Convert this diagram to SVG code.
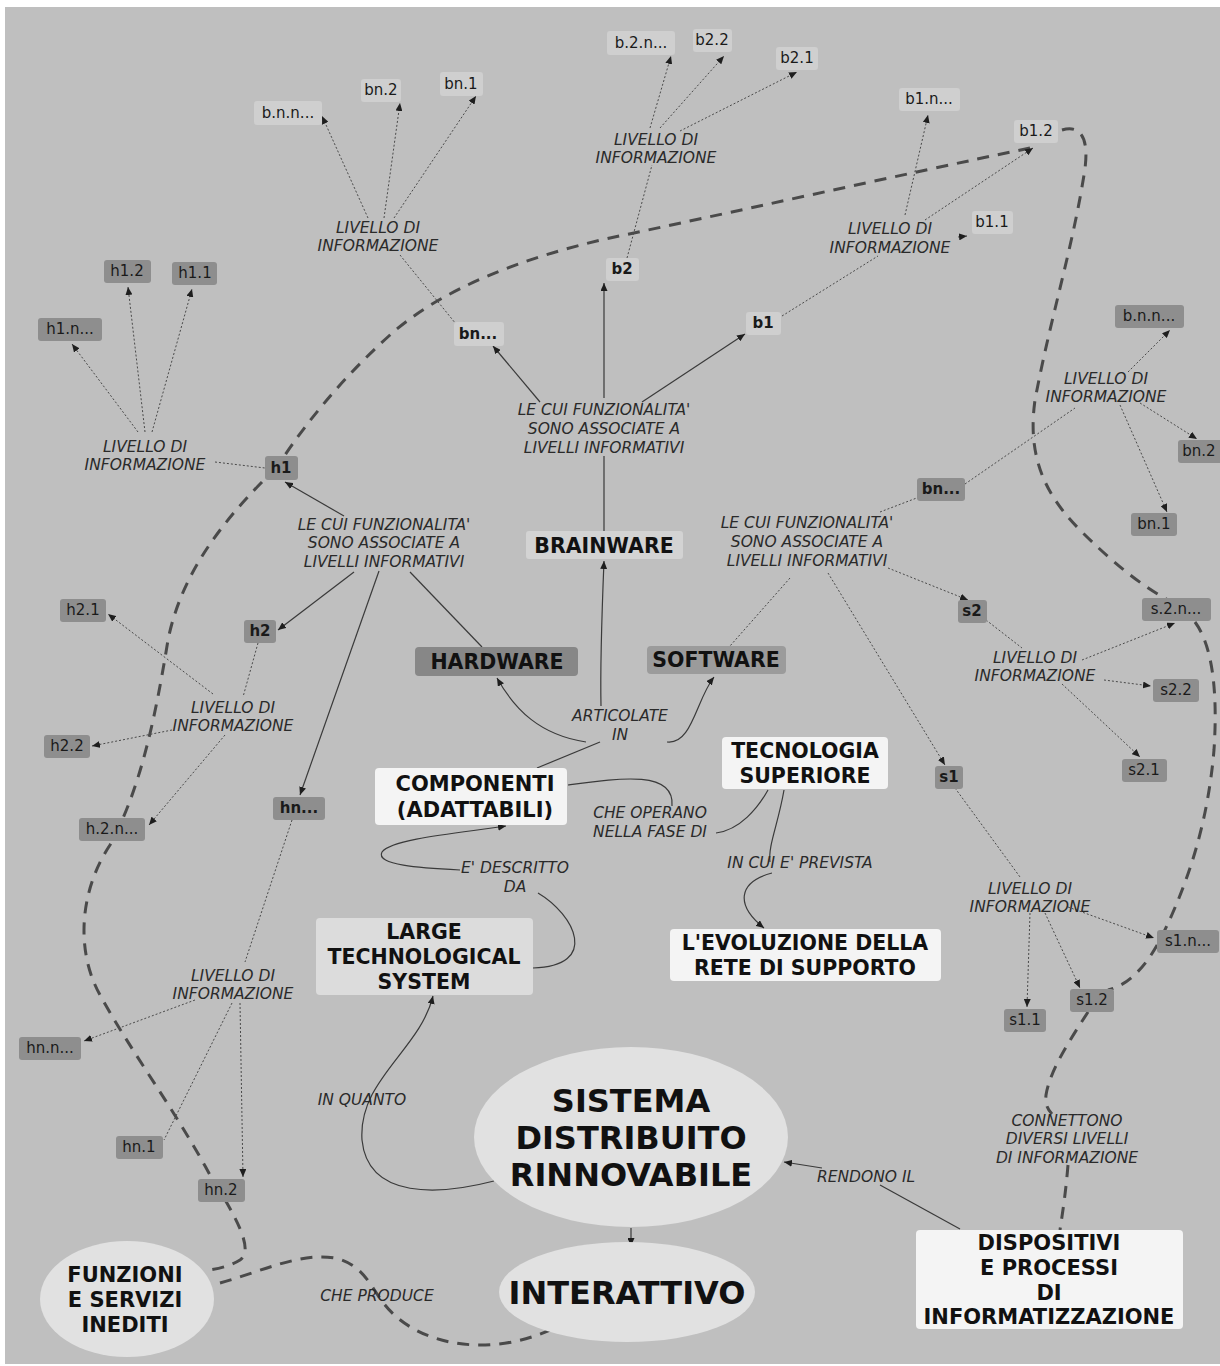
<svg xmlns="http://www.w3.org/2000/svg" width="1220" height="1366" viewBox="0 0 1220 1366">
<defs>
<marker id="ah" viewBox="0 0 8 7" refX="8" refY="3.5" markerWidth="8" markerHeight="7" markerUnits="userSpaceOnUse" orient="auto">
<path d="M0,0 L8,3.5 L0,7 z" fill="#1e1e1e"/>
</marker>
<style>
.lt{fill:#cfcfcf}
.dk{fill:#8e8e8e}
.wh{fill:#f4f4f4}
.el{fill:#e1e1e1}
.t{font-family:"DejaVu Sans",Verdana,sans-serif;font-size:15px;fill:#1a1a1a;text-anchor:middle}
.b{font-weight:bold}
.big{font-family:"DejaVu Sans",Verdana,sans-serif;font-weight:bold;font-size:20.5px;fill:#111;text-anchor:middle}
.lbl{font-family:"DejaVu Sans",Verdana,sans-serif;font-style:italic;font-size:15.5px;fill:#2a2a2a;text-anchor:middle}
.dot{fill:none;stroke:#4a4a4a;stroke-width:1;stroke-dasharray:2 2}
.sol{fill:none;stroke:#3a3a3a;stroke-width:1.2}
.dash{fill:none;stroke:#4a4a4a;stroke-width:3;stroke-dasharray:12 9}
</style>
</defs>
<rect x="0" y="0" width="1220" height="1366" fill="#ffffff"/>
<rect x="5" y="7" width="1215" height="1357" fill="#bfbfbf"/>

<g id="connectors">
<!-- thick dashed -->
<path class="dash" d="M1030,148 C900,175 720,215 610,238 C520,258 440,290 390,335 C340,380 305,425 283,458"/>
<path class="dash" d="M262,482 C215,530 180,580 168,640 C155,720 140,790 110,845 C80,890 75,950 100,995 C130,1050 175,1110 210,1175 C235,1215 255,1250 240,1260 C232,1265 222,1268 210,1270"/>
<path class="dash" d="M220,1283 C260,1272 300,1252 335,1258 C365,1265 372,1290 385,1305 C405,1330 440,1345 480,1345 C515,1345 540,1335 562,1325"/>
<path class="dash" d="M1062,130 C1082,124 1090,140 1084,175 C1072,250 1050,320 1035,400 C1028,450 1040,490 1080,530 C1110,560 1140,585 1168,600"/>
<path class="dash" d="M1195,622 C1212,645 1218,690 1214,750 C1208,820 1190,880 1160,940 C1145,968 1128,985 1108,990"/>
<path class="dash" d="M1088,1012 C1070,1040 1050,1070 1046,1095 C1045,1105 1048,1110 1052,1114"/>
<path class="dash" d="M1068,1165 C1066,1190 1063,1210 1060,1230"/>

<!-- top bn subtree -->
<line class="dot" x1="368" y1="218" x2="322" y2="116" marker-end="url(#ah)"/>
<line class="dot" x1="384" y1="218" x2="400" y2="103" marker-end="url(#ah)"/>
<line class="dot" x1="394" y1="218" x2="476" y2="96" marker-end="url(#ah)"/>
<line class="dot" x1="400" y1="255" x2="456" y2="324"/>
<!-- b2 subtree -->
<line class="dot" x1="650" y1="128" x2="671" y2="56" marker-end="url(#ah)"/>
<line class="dot" x1="660" y1="128" x2="724" y2="56" marker-end="url(#ah)"/>
<line class="dot" x1="680" y1="131" x2="797" y2="72" marker-end="url(#ah)"/>
<line class="dot" x1="627" y1="258" x2="652" y2="165"/>
<!-- b1 subtree -->
<line class="dot" x1="905" y1="215" x2="928" y2="115" marker-end="url(#ah)"/>
<line class="dot" x1="925" y1="220" x2="1033" y2="148" marker-end="url(#ah)"/>
<line class="dot" x1="958" y1="237" x2="967" y2="236" marker-end="url(#ah)"/>
<line class="dot" x1="782" y1="316" x2="878" y2="256"/>
<!-- brainware solid -->
<line class="sol" x1="540" y1="402" x2="493" y2="346" marker-end="url(#ah)"/>
<line class="sol" x1="604" y1="398" x2="604" y2="283" marker-end="url(#ah)"/>
<line class="sol" x1="642" y1="402" x2="745" y2="334" marker-end="url(#ah)"/>
<line class="sol" x1="604" y1="456" x2="604" y2="531"/>
<!-- h1 subtree -->
<line class="dot" x1="138" y1="432" x2="72" y2="344" marker-end="url(#ah)"/>
<line class="dot" x1="145" y1="432" x2="128" y2="287" marker-end="url(#ah)"/>
<line class="dot" x1="152" y1="432" x2="192" y2="289" marker-end="url(#ah)"/>
<line class="dot" x1="215" y1="462" x2="265" y2="468"/>
<!-- hardware solid -->
<line class="sol" x1="344" y1="516" x2="285" y2="482" marker-end="url(#ah)"/>
<line class="sol" x1="354" y1="572" x2="278" y2="630" marker-end="url(#ah)"/>
<line class="sol" x1="379" y1="571" x2="300" y2="795" marker-end="url(#ah)"/>
<line class="sol" x1="410" y1="572" x2="482" y2="647"/>
<!-- h2 subtree -->
<line class="dot" x1="258" y1="643" x2="243" y2="697"/>
<line class="dot" x1="213" y1="694" x2="108" y2="614" marker-end="url(#ah)"/>
<line class="dot" x1="172" y1="730" x2="92" y2="746" marker-end="url(#ah)"/>
<line class="dot" x1="225" y1="735" x2="149" y2="825" marker-end="url(#ah)"/>
<!-- hn subtree -->
<line class="dot" x1="292" y1="820" x2="245" y2="962"/>
<line class="dot" x1="195" y1="1000" x2="84" y2="1041" marker-end="url(#ah)"/>
<line class="dot" x1="232" y1="1003" x2="164" y2="1140"/>
<line class="dot" x1="240" y1="1003" x2="243" y2="1177" marker-end="url(#ah)"/>
<!-- software -->
<line class="dot" x1="880" y1="512" x2="935" y2="491" marker-end="url(#ah)"/>
<line class="dot" x1="888" y1="568" x2="968" y2="600" marker-end="url(#ah)"/>
<line class="dot" x1="828" y1="573" x2="945" y2="765" marker-end="url(#ah)"/>
<line class="dot" x1="790" y1="578" x2="730" y2="646"/>
<!-- right bn subtree -->
<line class="dot" x1="965" y1="484" x2="1075" y2="408"/>
<line class="dot" x1="1128" y1="372" x2="1170" y2="330" marker-end="url(#ah)"/>
<line class="dot" x1="1140" y1="403" x2="1197" y2="439" marker-end="url(#ah)"/>
<line class="dot" x1="1120" y1="405" x2="1167" y2="512" marker-end="url(#ah)"/>
<!-- s2 subtree -->
<line class="dot" x1="986" y1="620" x2="1022" y2="648"/>
<line class="dot" x1="1082" y1="660" x2="1175" y2="623" marker-end="url(#ah)"/>
<line class="dot" x1="1104" y1="680" x2="1151" y2="686" marker-end="url(#ah)"/>
<line class="dot" x1="1062" y1="684" x2="1140" y2="757" marker-end="url(#ah)"/>
<!-- s1 subtree -->
<line class="dot" x1="955" y1="788" x2="1020" y2="877"/>
<line class="dot" x1="1068" y1="907" x2="1154" y2="938" marker-end="url(#ah)"/>
<line class="dot" x1="1030" y1="913" x2="1027" y2="1007" marker-end="url(#ah)"/>
<line class="dot" x1="1045" y1="913" x2="1080" y2="988" marker-end="url(#ah)"/>
<!-- central -->
<path class="sol" d="M601,706 C600,660 602,610 604,561" marker-end="url(#ah)"/>
<path class="sol" d="M586,742 C540,735 515,710 497,678" marker-end="url(#ah)"/>
<path class="sol" d="M667,742 C692,745 696,700 714,677" marker-end="url(#ah)"/>
<line class="sol" x1="537" y1="768" x2="600" y2="742"/>
<path class="sol" d="M568,785 C620,778 675,770 672,806"/>
<path class="sol" d="M716,833 C740,830 758,808 768,790"/>
<path class="sol" d="M784,790 C778,825 768,845 770,862"/>
<path class="sol" d="M772,873 C738,882 735,905 764,928" marker-end="url(#ah)"/>
<path class="sol" d="M460,870 C420,868 375,865 382,852 C392,838 470,832 506,826" marker-end="url(#ah)"/>
<path class="sol" d="M538,893 C575,915 600,966 533,968"/>
<path class="sol" d="M494,1181 C440,1195 368,1200 362,1140 C358,1080 420,1050 433,996" marker-end="url(#ah)"/>
<line class="sol" x1="960" y1="1229" x2="880" y2="1185"/>
<line class="sol" x1="822" y1="1168" x2="784" y2="1162" marker-end="url(#ah)"/>
<line class="sol" x1="631" y1="1228" x2="631" y2="1246" marker-end="url(#ah)"/>
</g>

<!-- labels -->
<g id="link-labels">
<text class="lbl" x="378" y="233">LIVELLO DI</text><text class="lbl" x="378" y="251">INFORMAZIONE</text>
<text class="lbl" x="656" y="145">LIVELLO DI</text><text class="lbl" x="656" y="163">INFORMAZIONE</text>
<text class="lbl" x="890" y="234">LIVELLO DI</text><text class="lbl" x="890" y="253">INFORMAZIONE</text>
<text class="lbl" x="145" y="452">LIVELLO DI</text><text class="lbl" x="145" y="470">INFORMAZIONE</text>
<text class="lbl" x="233" y="713">LIVELLO DI</text><text class="lbl" x="233" y="731">INFORMAZIONE</text>
<text class="lbl" x="233" y="981">LIVELLO DI</text><text class="lbl" x="233" y="999">INFORMAZIONE</text>
<text class="lbl" x="1106" y="384">LIVELLO DI</text><text class="lbl" x="1106" y="402">INFORMAZIONE</text>
<text class="lbl" x="1035" y="663">LIVELLO DI</text><text class="lbl" x="1035" y="681">INFORMAZIONE</text>
<text class="lbl" x="1030" y="894">LIVELLO DI</text><text class="lbl" x="1030" y="912">INFORMAZIONE</text>
<text class="lbl" x="384" y="530">LE CUI FUNZIONALITA'</text><text class="lbl" x="384" y="548">SONO ASSOCIATE A</text><text class="lbl" x="384" y="567">LIVELLI INFORMATIVI</text>
<text class="lbl" x="604" y="415">LE CUI FUNZIONALITA'</text><text class="lbl" x="604" y="434">SONO ASSOCIATE A</text><text class="lbl" x="604" y="453">LIVELLI INFORMATIVI</text>
<text class="lbl" x="807" y="528">LE CUI FUNZIONALITA'</text><text class="lbl" x="807" y="547">SONO ASSOCIATE A</text><text class="lbl" x="807" y="566">LIVELLI INFORMATIVI</text>
<text class="lbl" x="620" y="721">ARTICOLATE</text><text class="lbl" x="620" y="740">IN</text>
<text class="lbl" x="650" y="818">CHE OPERANO</text><text class="lbl" x="650" y="837">NELLA FASE DI</text>
<text class="lbl" x="800" y="868">IN CUI E' PREVISTA</text>
<text class="lbl" x="515" y="873">E' DESCRITTO</text><text class="lbl" x="515" y="892">DA</text>
<text class="lbl" x="362" y="1105">IN QUANTO</text>
<text class="lbl" x="866" y="1182">RENDONO IL</text>
<text class="lbl" x="1067" y="1126">CONNETTONO</text><text class="lbl" x="1067" y="1144">DIVERSI LIVELLI</text><text class="lbl" x="1067" y="1163">DI INFORMAZIONE</text>
<text class="lbl" x="377" y="1301">CHE PRODUCE</text>
</g>

<!-- light small nodes -->
<g id="n-bnn-top"><rect class="lt" x="254" y="101" width="68" height="24" rx="3"/><text class="t" x="288" y="118">b.n.n...</text></g>
<g id="n-bn2-top"><rect class="lt" x="361" y="79" width="40" height="23" rx="3"/><text class="t" x="381" y="95">bn.2</text></g>
<g id="n-bn1-top"><rect class="lt" x="440" y="72" width="43" height="24" rx="3"/><text class="t" x="461" y="89">bn.1</text></g>
<g id="n-b2n"><rect class="lt" x="607" y="31" width="68" height="24" rx="3"/><text class="t" x="641" y="48">b.2.n...</text></g>
<g id="n-b22"><rect class="lt" x="693" y="29" width="39" height="23" rx="3"/><text class="t" x="712" y="45">b2.2</text></g>
<g id="n-b21"><rect class="lt" x="776" y="47" width="42" height="23" rx="3"/><text class="t" x="797" y="63">b2.1</text></g>
<g id="n-b1n"><rect class="lt" x="899" y="88" width="61" height="23" rx="3"/><text class="t" x="929" y="104">b1.n...</text></g>
<g id="n-b12"><rect class="lt" x="1014" y="120" width="44" height="23" rx="3"/><text class="t" x="1036" y="136">b1.2</text></g>
<g id="n-b11"><rect class="lt" x="972" y="211" width="41" height="23" rx="3"/><text class="t" x="992" y="227">b1.1</text></g>
<g id="n-bn-top"><rect class="lt" x="454" y="322" width="50" height="24" rx="3"/><text class="t b" x="478" y="339">bn...</text></g>
<g id="n-b2"><rect class="lt" x="606" y="258" width="33" height="23" rx="3"/><text class="t b" x="622" y="274">b2</text></g>
<g id="n-b1"><rect class="lt" x="746" y="312" width="35" height="23" rx="3"/><text class="t b" x="763" y="328">b1</text></g>

<!-- dark small nodes -->
<g id="n-h12"><rect class="dk" x="104" y="260" width="47" height="23" rx="3"/><text class="t" x="127" y="276">h1.2</text></g>
<g id="n-h11"><rect class="dk" x="172" y="262" width="45" height="23" rx="3"/><text class="t" x="195" y="278">h1.1</text></g>
<g id="n-h1n"><rect class="dk" x="38" y="318" width="64" height="23" rx="3"/><text class="t" x="70" y="334">h1.n...</text></g>
<g id="n-h1"><rect class="dk" x="265" y="456" width="33" height="24" rx="3"/><text class="t b" x="281" y="473">h1</text></g>
<g id="n-h2"><rect class="dk" x="244" y="620" width="32" height="23" rx="3"/><text class="t b" x="260" y="636">h2</text></g>
<g id="n-h21"><rect class="dk" x="60" y="599" width="46" height="23" rx="3"/><text class="t" x="83" y="615">h2.1</text></g>
<g id="n-h22"><rect class="dk" x="44" y="735" width="46" height="23" rx="3"/><text class="t" x="67" y="751">h2.2</text></g>
<g id="n-h2n"><rect class="dk" x="79" y="818" width="66" height="23" rx="3"/><text class="t" x="112" y="834">h.2.n...</text></g>
<g id="n-hn"><rect class="dk" x="273" y="797" width="52" height="23" rx="3"/><text class="t b" x="299" y="813">hn...</text></g>
<g id="n-hnn"><rect class="dk" x="19" y="1037" width="62" height="23" rx="3"/><text class="t" x="50" y="1053">hn.n...</text></g>
<g id="n-hn1"><rect class="dk" x="116" y="1136" width="47" height="23" rx="3"/><text class="t" x="139" y="1152">hn.1</text></g>
<g id="n-hn2"><rect class="dk" x="198" y="1179" width="47" height="23" rx="3"/><text class="t" x="221" y="1195">hn.2</text></g>
<g id="n-bn-right"><rect class="dk" x="917" y="478" width="48" height="23" rx="3"/><text class="t b" x="941" y="494">bn...</text></g>
<g id="n-bnn-right"><rect class="dk" x="1115" y="305" width="69" height="23" rx="3"/><text class="t" x="1149" y="321">b.n.n...</text></g>
<g id="n-bn2-right"><rect class="dk" x="1178" y="440" width="44" height="23" rx="3"/><text class="t" x="1199" y="456">bn.2</text></g>
<g id="n-bn1-right"><rect class="dk" x="1131" y="513" width="46" height="23" rx="3"/><text class="t" x="1154" y="529">bn.1</text></g>
<g id="n-s2"><rect class="dk" x="958" y="600" width="29" height="23" rx="3"/><text class="t b" x="972" y="616">s2</text></g>
<g id="n-s2n"><rect class="dk" x="1142" y="598" width="69" height="23" rx="3"/><text class="t" x="1176" y="614">s.2.n...</text></g>
<g id="n-s22"><rect class="dk" x="1153" y="679" width="46" height="23" rx="3"/><text class="t" x="1176" y="695">s2.2</text></g>
<g id="n-s21"><rect class="dk" x="1122" y="759" width="45" height="23" rx="3"/><text class="t" x="1144" y="775">s2.1</text></g>
<g id="n-s1"><rect class="dk" x="935" y="766" width="28" height="23" rx="3"/><text class="t b" x="949" y="782">s1</text></g>
<g id="n-s1n"><rect class="dk" x="1157" y="930" width="62" height="23" rx="3"/><text class="t" x="1188" y="946">s1.n...</text></g>
<g id="n-s11"><rect class="dk" x="1004" y="1009" width="42" height="23" rx="3"/><text class="t" x="1025" y="1025">s1.1</text></g>
<g id="n-s12"><rect class="dk" x="1070" y="989" width="44" height="23" rx="3"/><text class="t" x="1092" y="1005">s1.2</text></g>

<!-- main nodes -->
<g id="n-brainware"><rect x="526" y="531" width="157" height="28" rx="3" fill="#d3d3d3"/><text class="big" x="604" y="553">BRAINWARE</text></g>
<g id="n-hardware"><rect x="415" y="647" width="163" height="29" rx="4" fill="#878787"/><text class="big" x="497" y="669">HARDWARE</text></g>
<g id="n-software"><rect x="647" y="646" width="139" height="28" rx="4" fill="#9b9b9b"/><text class="big" x="716" y="667">SOFTWARE</text></g>
<g id="n-componenti"><rect class="wh" x="375" y="768" width="192" height="57" rx="4"/><text class="big" x="475" y="791" style="font-size:21px">COMPONENTI</text><text class="big" x="475" y="817" style="font-size:21px">(ADATTABILI)</text></g>
<g id="n-tecnologia"><rect class="wh" x="722" y="737" width="166" height="52" rx="4"/><text class="big" x="805" y="758">TECNOLOGIA</text><text class="big" x="805" y="783">SUPERIORE</text></g>
<g id="n-evoluzione"><rect class="wh" x="670" y="929" width="271" height="52" rx="4"/><text class="big" x="805" y="950">L'EVOLUZIONE DELLA</text><text class="big" x="805" y="975">RETE DI SUPPORTO</text></g>
<g id="n-large"><rect x="316" y="918" width="217" height="77" rx="4" fill="#dcdcdc"/><text class="big" x="424" y="939">LARGE</text><text class="big" x="424" y="964">TECHNOLOGICAL</text><text class="big" x="424" y="989">SYSTEM</text></g>
<g id="n-dispositivi"><rect class="wh" x="916" y="1230" width="267" height="99" rx="4"/><text class="big" x="1049" y="1250" style="font-size:21px">DISPOSITIVI</text><text class="big" x="1049" y="1275" style="font-size:21px">E PROCESSI</text><text class="big" x="1049" y="1300" style="font-size:21px">DI</text><text class="big" x="1049" y="1324" style="font-size:21px">INFORMATIZZAZIONE</text></g>
<g id="n-sistema"><ellipse class="el" cx="631" cy="1137" rx="157" ry="90"/><text class="big" x="631" y="1112" style="font-size:32px">SISTEMA</text><text class="big" x="631" y="1149" style="font-size:32px">DISTRIBUITO</text><text class="big" x="631" y="1186" style="font-size:32px">RINNOVABILE</text></g>
<g id="n-interattivo"><ellipse class="el" cx="627" cy="1292" rx="128" ry="50"/><text class="big" x="627" y="1304" style="font-size:32px">INTERATTIVO</text></g>
<g id="n-funzioni"><ellipse class="el" cx="127" cy="1299" rx="87" ry="58"/><text class="big" x="125" y="1282" style="font-size:21px">FUNZIONI</text><text class="big" x="125" y="1307" style="font-size:21px">E SERVIZI</text><text class="big" x="125" y="1332" style="font-size:21px">INEDITI</text></g>
</svg>
